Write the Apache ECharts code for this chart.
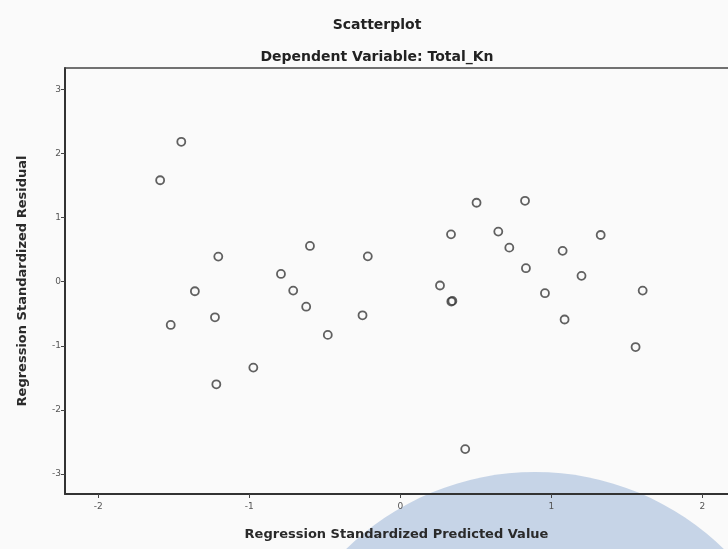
<!DOCTYPE html>
<html>
<head>
<meta charset="utf-8">
<title>Scatterplot</title>
<script src="https://cdn.jsdelivr.net/npm/echarts@6/dist/echarts.min.js"></script>
<style>
html, body { margin: 0; padding: 0; background: #fafafa; }
#chart { width: 728px; height: 549px; }
</style>
</head>
<body>
<div id="chart"></div>
<script>
// 预测值 (x) 与残差 (y)
var predicted = [-1.59, -1.45, -1.205, -0.79, -0.598, -1.36, -1.52, -1.227, -1.218, -0.973,
	-0.709, -0.623, -0.48, -0.25, -0.215, 0.505, 0.826, 0.336, 0.649, 0.722,
	1.075, 1.327, 0.832, 1.20, 0.263, 0.338, 0.345, 0.958, 1.605, 1.088, 1.558, 0.43];
var residual = [1.58, 2.18, 0.39, 0.12, 0.556, -0.15, -0.675, -0.556, -1.60, -1.34,
	-0.14, -0.39, -0.83, -0.525, 0.394, 1.23, 1.26, 0.737, 0.78, 0.53,
	0.48, 0.727, 0.21, 0.09, -0.06, -0.31, -0.30, -0.18, -0.14, -0.59, -1.02, -2.61];
var xTicks = [-2, -1, 0, 1, 2];
var yTicks = [-3, -2, -1, 0, 1, 2, 3];

var points = [];
for (var i = 0; i < predicted.length; i++) {
	points.push([predicted[i], residual[i]]);
}

var labelFont = 'DejaVu Sans';
var xMin = -2.22, xMax = 2.17;

var option = {
	backgroundColor : '#fafafa',
	animation : false,
	title : [ {
		text : 'Scatterplot',
		left : 372,
		top : 13,
		textAlign : 'center',
		textStyle : { fontFamily : labelFont, fontSize : 14, fontWeight : 'bold', color : '#222' }
	}, {
		text : 'Dependent Variable: Total_Kn',
		left : 372,
		top : 45,
		textAlign : 'center',
		textStyle : { fontFamily : labelFont, fontSize : 14, fontWeight : 'bold', color : '#222' }
	} ],
	// 背景水印圆
	graphic : [ {
		type : 'circle',
		z : -10,
		shape : { cx : 535, cy : 742, r : 270 },
		style : { fill : '#c6d4e7' }
	} ],
	grid : {
		left : 65,
		right : 0,
		top : 68,
		bottom : 55,
		show : false
	},
	xAxis : [ {
		type : 'value',
		min : xMin,
		max : xMax,
		z : 3,
		name : 'Regression Standardized Predicted Value',
		nameLocation : 'middle',
		nameGap : 34,
		nameTextStyle : { fontFamily : labelFont, fontSize : 13, fontWeight : 'bold', color : '#2a2a2a' },
		axisLine : { show : true, onZero : false, lineStyle : { color : '#333', width : 2 } },
		axisTick : { show : true, length : 4, customValues : xTicks, lineStyle : { color : '#444' } },
		axisLabel : { customValues : xTicks, fontFamily : labelFont, fontSize : 9, color : '#555', margin : 8 },
		splitLine : { show : false }
	}, {
		// 上边框
		type : 'value',
		position : 'top',
		min : xMin,
		max : xMax,
		z : 3,
		axisLine : { show : true, onZero : false, lineStyle : { color : '#444', width : 1.5 } },
		axisTick : { show : false },
		axisLabel : { show : false },
		splitLine : { show : false }
	} ],
	yAxis : {
		type : 'value',
		min : -3.31,
		max : 3.33,
		z : 3,
		name : 'Regression Standardized Residual',
		nameLocation : 'middle',
		nameGap : 36,
		nameTextStyle : { fontFamily : labelFont, fontSize : 13, fontWeight : 'bold', color : '#2a2a2a' },
		axisLine : { show : true, onZero : false, lineStyle : { color : '#333', width : 2 } },
		axisTick : { show : true, length : 4, customValues : yTicks, lineStyle : { color : '#444' } },
		axisLabel : { customValues : yTicks, fontFamily : labelFont, fontSize : 9, color : '#555', margin : 4 },
		splitLine : { show : false }
	},
	series : [ {
		type : 'scatter',
		data : points,
		symbol : 'circle',
		symbolSize : 8,
		z : 4,
		itemStyle : { color : 'transparent', borderColor : '#3a3a3a', borderWidth : 1.8 }
	} ]
};

var myChart = echarts.init(document.getElementById('chart'));
myChart.setOption(option);
</script>
</body>
</html>
